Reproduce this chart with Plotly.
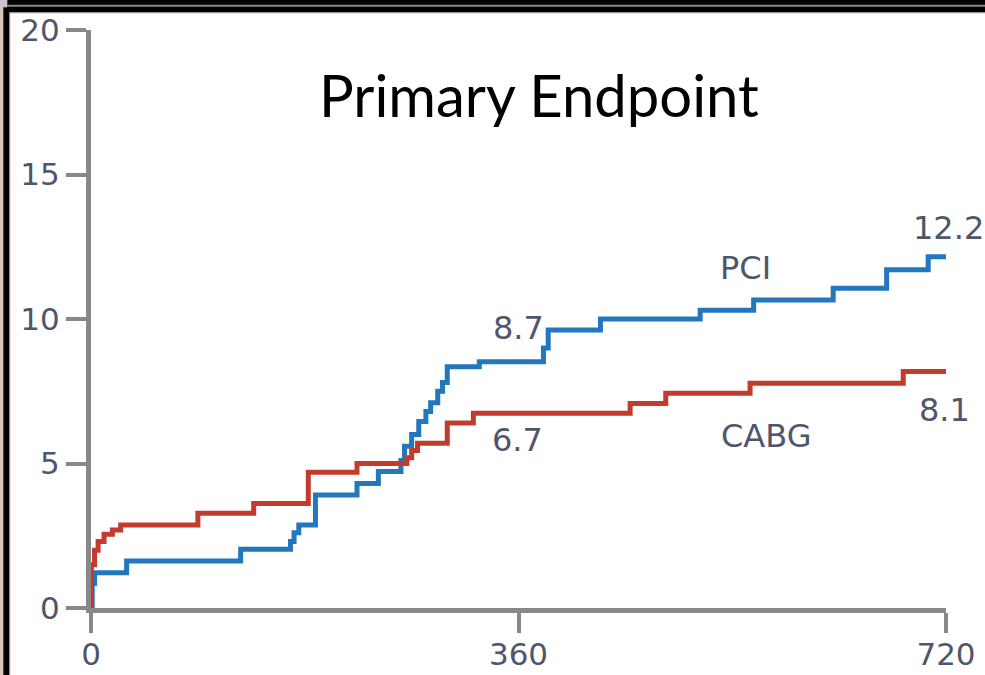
import plotly.graph_objects as go

# ---- data ----
pci_days = [0, 1, 3, 30, 126, 168, 171, 175, 189, 224, 242, 261, 264, 270, 276, 282, 286, 292, 296, 300,
            327, 381, 385, 429, 513, 558, 625, 670, 705, 720]
pci_rate = [0, 0.85, 1.22, 1.63, 2.03, 2.3, 2.6, 2.87, 3.91, 4.31, 4.72, 5.1, 5.6, 6.0, 6.45, 6.8, 7.1, 7.5,
            7.8, 8.35, 8.52, 9.0, 9.62, 10.0, 10.3, 10.66, 11.06, 11.7, 12.15, 12.15]

cabg_days = [0, 0.3, 3, 6, 11, 18, 25, 90, 137, 183, 224, 266, 270, 275, 300, 322, 454, 484, 555, 684, 720]
cabg_rate = [0, 1.5, 2.0, 2.3, 2.55, 2.7, 2.87, 3.28, 3.62, 4.7, 5.0, 5.2, 5.45, 5.7, 6.4, 6.74, 7.08,
             7.43, 7.78, 8.18, 8.18]

x_ticks = [0, 360, 720]
y_ticks = [0, 5, 10, 15, 20]

labels = ["PCI", "8.7", "12.2", "CABG", "6.7", "8.1"]
label_x = [551, 360, 722, 568, 359, 719]
label_y = [11.76, 9.69, 13.15, 5.95, 5.81, 6.85]

title_text = "Primary Endpoint"

# ---- figure ----
W, H = 985, 675
L, R, T, B = 91, 39, 30, 67
PW, PH = W - L - R, H - T - B

BLUE = "#2378bd"
RED = "#c23b2c"
AXIS = "#888888"
TXT = "#4f566c"

fig = go.Figure()
fig.add_trace(go.Scatter(x=pci_days, y=pci_rate, mode="lines", line=dict(color=BLUE, width=5, shape="hv"),
                         name="PCI", showlegend=False, hoverinfo="skip", cliponaxis=False))
fig.add_trace(go.Scatter(x=cabg_days, y=cabg_rate, mode="lines", line=dict(color=RED, width=5, shape="hv"),
                         name="CABG", showlegend=False, hoverinfo="skip", cliponaxis=False))


def px_x(p):
    return (p - L) / PW


def px_y(p):
    return (H - B - p) / PH


for t, xx, yy in zip(labels, label_x, label_y):
    # convert data position to paper so labels past the axis end stay visible
    fig.add_annotation(x=xx / 720.0, y=yy / 20.0, text=t, showarrow=False, xref="paper", yref="paper",
                       xanchor="center", yanchor="middle",
                       font=dict(family="DejaVu Sans", size=32, color=TXT))

fig.add_annotation(x=px_x(539), y=px_y(95), xref="paper", yref="paper", text=title_text,
                   xanchor="center", yanchor="middle",
                   showarrow=False, font=dict(family="Lato", size=58, color="#000000"))

# frame decorations (screenshot border)
shapes = [
    dict(type="rect", xref="paper", yref="paper", x0=px_x(0), x1=px_x(3.3), y0=px_y(675), y1=px_y(0),
         fillcolor="#d6c4b6", line=dict(width=0), layer="above"),
    dict(type="rect", xref="paper", yref="paper", x0=px_x(0), x1=px_x(7.3), y0=px_y(7.3), y1=px_y(0),
         fillcolor="#c9c3c9", line=dict(width=0), layer="above"),
    dict(type="rect", xref="paper", yref="paper", x0=px_x(3.3), x1=px_x(9.5), y0=px_y(675), y1=px_y(7.3),
         fillcolor="#000000", line=dict(width=0), layer="above"),
    dict(type="rect", xref="paper", yref="paper", x0=px_x(7.3), x1=px_x(985), y0=px_y(12.5), y1=px_y(0),
         fillcolor="#000000", line=dict(width=0), layer="above"),
    dict(type="rect", xref="paper", yref="paper", x0=px_x(7.3), x1=px_x(985), y0=px_y(6.8), y1=px_y(4.8),
         fillcolor="#8a8a8a", line=dict(width=0), layer="above"),
    dict(type="rect", xref="paper", yref="paper", x0=px_x(9.5), x1=px_x(985), y0=px_y(13.3), y1=px_y(12.3),
         fillcolor="#999999", line=dict(width=0), layer="above"),
    dict(type="rect", xref="paper", yref="paper", x0=px_x(9.3), x1=px_x(10.3), y0=px_y(675), y1=px_y(12.3),
         fillcolor="#999999", line=dict(width=0), layer="above"),
]

fig.update_layout(
    width=W, height=H,
    margin=dict(l=L, r=R, t=T, b=B, pad=0, autoexpand=False),
    paper_bgcolor="white", plot_bgcolor="white",
    shapes=shapes,
    xaxis=dict(range=[0, 720], tickmode="array", tickvals=x_ticks, ticktext=[str(v) for v in x_ticks],
               showgrid=False, zeroline=False, showline=True, linecolor=AXIS, linewidth=5,
               ticks="outside", ticklen=20, tickwidth=4, tickcolor=AXIS, automargin=False,
               ticklabelstandoff=-5,
               tickfont=dict(family="DejaVu Sans", size=31, color=TXT), fixedrange=True),
    yaxis=dict(range=[0, 20], tickmode="array", tickvals=y_ticks, ticktext=[str(v) for v in y_ticks],
               showgrid=False, zeroline=False, showline=True, linecolor=AXIS, linewidth=5,
               ticks="outside", ticklen=20, tickwidth=4, tickcolor=AXIS, automargin=False,
               tickfont=dict(family="DejaVu Sans", size=31, color=TXT), fixedrange=True),
)

fig.write_html("out.html", include_plotlyjs=True, config={"displayModeBar": False})
